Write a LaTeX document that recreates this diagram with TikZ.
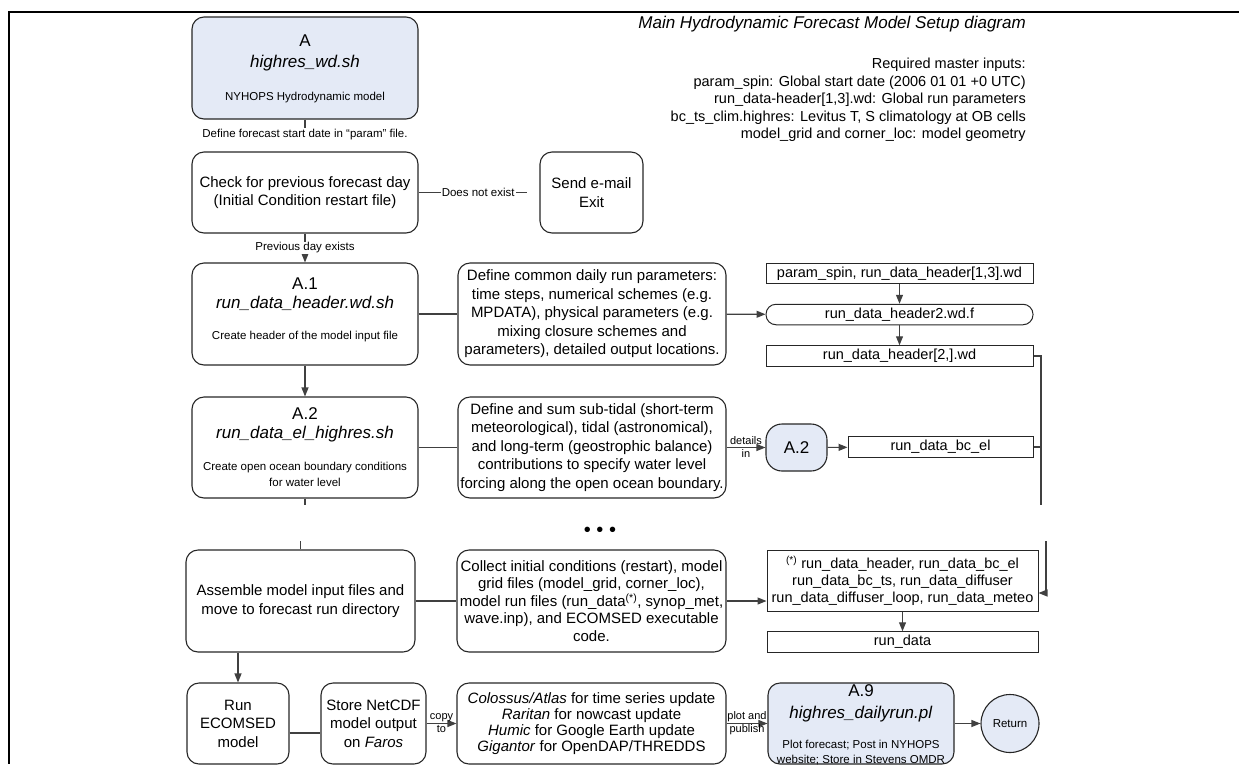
\documentclass[tikz,border=0pt]{standalone}
\usepackage{fontspec}
\setmainfont{Liberation Sans}
\usepackage{xcolor}
\usetikzlibrary{arrows.meta,positioning}
\definecolor{nyblue}{RGB}{228,234,246}

\begin{document}
\begin{tikzpicture}[x=1pt, y=-1pt,
    every node/.style={inner sep=0pt, align=center},
    box/.style={draw=black!85, line width=1.1pt, rounded corners=12pt, font=\fontsize{15}{18.5}\selectfont},
    file/.style={draw=black!85, line width=1pt, minimum width=267pt, minimum height=20.5pt, font=\fontsize{14.5}{17}\selectfont},
    small/.style={font=\fontsize{11.5}{14}\selectfont},
    big/.style={font=\fontsize{17}{19}\selectfont},
    lbl/.style={font=\fontsize{11.5}{14}\selectfont, fill=white, inner sep=1pt},
    tiny/.style={font=\fontsize{11}{13}\selectfont},
    conn/.style={draw=black!75, line width=1.1pt},
    arr/.style={conn, -{Triangle[length=9pt,width=7pt]}}]
                \useasboundingbox (0,0) rectangle (1239,764);
                \draw[line width=2.5pt] (1239,12) -- (9,12) -- (9,764);

                % Heading and inputs
                \node[anchor=east, font=\fontsize{17}{20}\selectfont\itshape] (head) at (1026,24) {Main Hydrodynamic Forecast Model Setup diagram};
                \node[anchor=north east, align=right, font=\fontsize{14.5}{17.5}\selectfont] (inputs) at (1026,58) {Required master inputs:\\param\_spin: Global start date (2006 01 01 +0 UTC)\\run\_data-header[1,3].wd: Global run parameters\\bc\_ts\_clim.highres: Levitus T, S climatology at OB cells\\model\_grid and corner\_loc: model geometry};

                % Script nodes
                \node[box, fill=nyblue, minimum width=226pt, minimum height=102pt] (a) at (305,68) {};
                \node[big, font=\fontsize{17}{21}\selectfont] (atitle) at (305,53) {A\\\textit{highres\_wd.sh}};
                \node[small] (adesc) at (305,98) {NYHOPS Hydrodynamic model};
                \node[lbl] (startlbl) at (305,135) {Define forecast start date in “param” file.};
                \node[box, minimum width=226pt, minimum height=81pt] (check) at (305,192.5) {Check for previous forecast day\\(Initial Condition restart file)};
                \node[box, minimum width=103pt, minimum height=81pt] (email) at (591.5,192.5) {Send e-mail\\Exit};
                \coordinate (noexist) at (527,192.5);

                \node[box, minimum width=226pt, minimum height=102pt] (a1) at (305,314) {};
                \node[big] (a1title) at (305,294) {A.1\\\textit{run\_data\_header.wd.sh}};
                \node[small] (a1desc) at (305,337) {Create header of the model input file};

                \node[box, minimum width=226pt, minimum height=101pt] (a2) at (305,447.5) {};
                \node[big] (a2title) at (305,425) {A.2\\\textit{run\_data\_el\_highres.sh}};
                \node[small, font=\fontsize{11.5}{16}\selectfont] (a2desc) at (305,474) {Create open ocean boundary conditions\\for water level};

                % Description nodes
                \node[box, minimum width=268pt, minimum height=102pt] (common) at (592,314) {Define common daily run parameters:\\time steps, numerical schemes (e.g.\\MPDATA), physical parameters (e.g.\\mixing closure schemes and\\parameters), detailed output locations.};
                \node[box, minimum width=268pt, minimum height=101pt] (tide) at (592,447.5) {Define and sum sub-tidal (short-term\\meteorological), tidal (astronomical),\\and long-term (geostrophic balance)\\contributions to specify water level\\forcing along the open ocean boundary.};

                % File nodes
                \node[file] (spin) at (899.5,273.5) {param\_spin, run\_data\_header[1,3].wd};
                \node[file, rounded corners=10pt] (hdrf) at (899.5,314.5) {run\_data\_header2.wd.f};
                \node[file] (hdr) at (899.5,356) {run\_data\_header[2,].wd};
                \node[box, fill=nyblue, rounded corners=16pt, minimum width=61pt, minimum height=47pt, font=\fontsize{17}{20}\selectfont] (a2ref) at (796.5,447.5) {A.2};
                \node[file, minimum width=185pt] (bcel) at (940.5,447) {run\_data\_bc\_el};

                \node[font=\fontsize{20}{20}\selectfont] (dots) at (600,532) {• • •};
                \coordinate (a2cut) at (305,505);
                \coordinate (asmcut) at (300.5,541);
                \coordinate (cut1) at (1041,505);
                \coordinate (cut2) at (1046,541);

                % Assembly nodes
                \node[box, minimum width=229pt, minimum height=102pt] (asm) at (300.5,601) {Assemble model input files and\\move to forecast run directory};
                \node[box, minimum width=269pt, minimum height=102pt, font=\fontsize{15}{17.5}\selectfont] (collect) at (591.5,601) {Collect initial conditions (restart), model\\grid files (model\_grid, corner\_loc),\\model run files (run\_data\textsuperscript{(*)}, synop\_met,\\wave.inp), and ECOMSED executable\\code.};
                \node[file, minimum width=271pt, minimum height=61pt] (runlist) at (902.5,580.5) {\textsuperscript{(*)} run\_data\_header, run\_data\_bc\_el\\run\_data\_bc\_ts, run\_data\_diffuser\\run\_data\_diffuser\_loop, run\_data\_meteo};
                \node[file, minimum width=271pt] (rundata) at (902.5,642) {run\_data};

                % Run and publish nodes
                \node[box, minimum width=102pt, minimum height=81pt] (run) at (238,723.5) {Run\\ECOMSED\\model};
                \node[box, minimum width=105pt, minimum height=81pt] (store) at (373.5,723.5) {Store NetCDF\\model output\\on \textit{Faros}};
                \node[box, minimum width=269pt, minimum height=81pt, font=\fontsize{15}{16}\selectfont] (colos) at (591.5,723.5) {\textit{Colossus/Atlas} for time series update\\\textit{Raritan} for nowcast update\\\textit{Humic} for Google Earth update\\\textit{Gigantor} for OpenDAP/THREDDS};
                \node[box, fill=nyblue, minimum width=186pt, minimum height=81pt] (a9) at (861,723.5) {};
                \node[big, font=\fontsize{17}{22}\selectfont] (a9title) at (861,703.5) {A.9\\\textit{highres\_dailyrun.pl}};
                \node[small, font=\fontsize{11.5}{15}\selectfont] (a9desc) at (861,752.5) {Plot forecast; Post in NYHOPS\\website; Store in Stevens OMDR};
                \node[draw=black!85, line width=1.1pt, circle, fill=nyblue, minimum size=58pt, small] (ret) at (1010,723.5) {Return};

                % Flow edges
                \draw[conn] (a) -- (startlbl);
                \draw[conn] (check) -- node[lbl, pos=0.55] (dne) {Does not exist} (noexist);
                \draw[arr] (check) -- node[lbl] (prev) {Previous day exists} (a1);
                \draw[arr] (a1) -- (a2);
                \draw[conn] (a1) -- (common);
                \draw[arr] (common) -- (hdrf);
                \draw[arr] (spin) -- (hdrf);
                \draw[arr] (hdrf) -- (hdr);
                \draw[conn] (a2) -- (tide);
                \draw[arr] (tide) -- node[tiny] (details) {details\\in} (a2ref);
                \draw[arr] (a2ref) -- (bcel);

                % Collector edges
                \draw[conn] (hdr.east) -| (cut1);
                \draw[conn] (bcel.east) -- (bcel.east -| cut1);
                \draw[arr] (cut2) |- ([yshift=-12.5pt]runlist.east);
                \draw[conn] (a2) -- (a2cut);
                \draw[conn] (asmcut) -- (asm);
                \draw[conn] (asm) -- (collect);
                \draw[arr] (collect.east) -- (collect.east -| runlist.west);
                \draw[arr] (runlist) -- (rundata);

                % Run edges
                \draw[arr] (asm.south -| run) -- (run);
                \draw[conn] ([yshift=-9.5pt]run.east) -- ([yshift=-9.5pt]store.west);
                \draw[arr] (store) -- node[tiny] (copy) {copy\\to} (colos);
                \draw[arr] (colos) -- node[tiny] (publish) {plot and\\publish} (a9);
                \draw[arr] (a9) -- (ret);
            \end{tikzpicture}
\end{document}
